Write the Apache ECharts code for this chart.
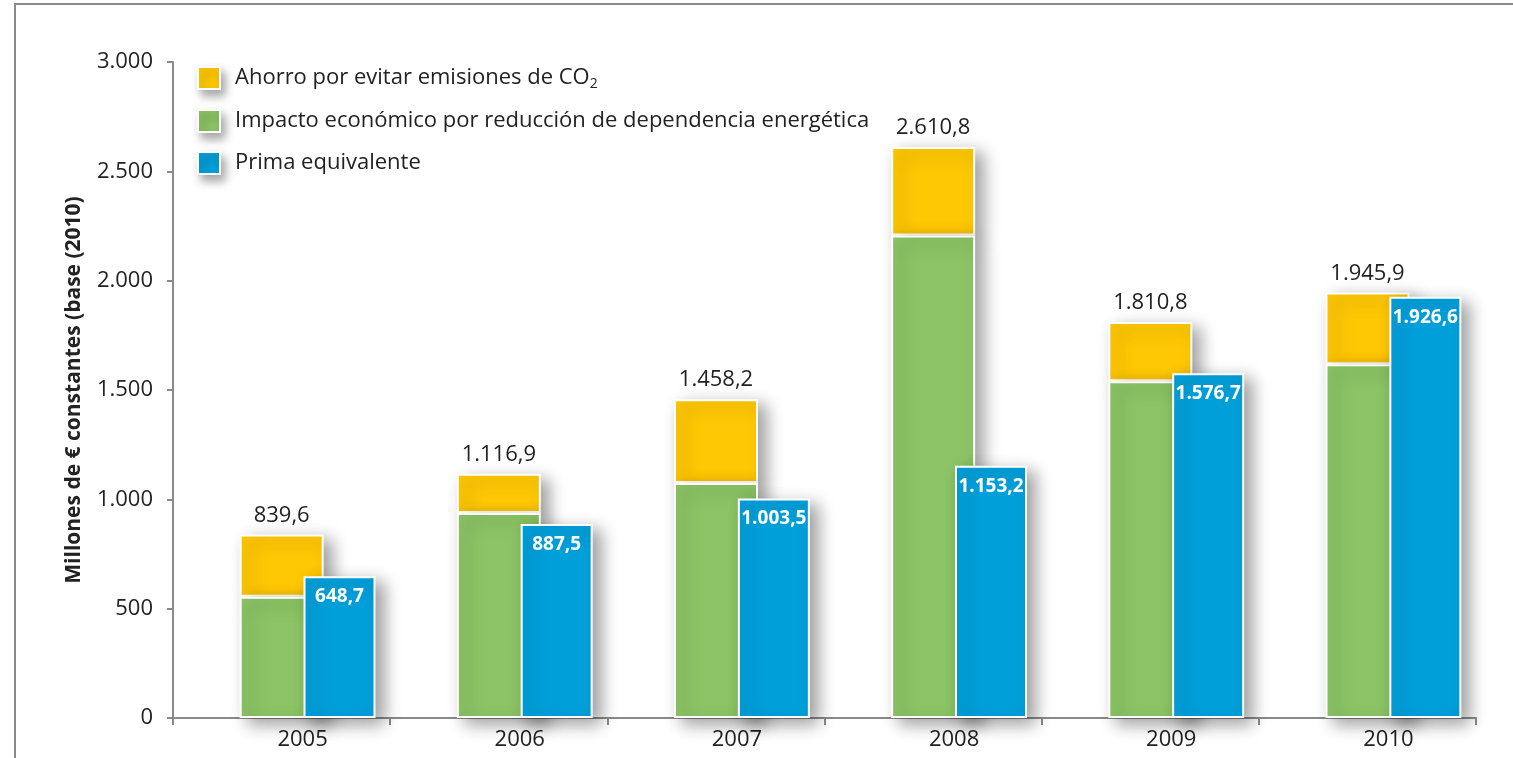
<!DOCTYPE html>
<html>
<head>
<meta charset="utf-8">
<script src="https://cdn.jsdelivr.net/npm/echarts@6/dist/echarts.min.js"></script>
<style>
html,body{margin:0;padding:0;background:#fff;}
#chart{width:1513px;height:758px;}
</style>
</head>
<body>
<div id="chart"></div>
<script>
const years = ['2005', '2006', '2007', '2008', '2009', '2010'];
const impactoEconomico = [555, 937, 1075, 2207, 1540, 1618];
const ahorroCO2 = [284.6, 179.9, 383.2, 403.8, 270.8, 327.9];
const totales = [839.6, 1116.9, 1458.2, 2610.8, 1810.8, 1945.9];
const primaEquivalente = [648.7, 887.5, 1003.5, 1153.2, 1576.7, 1926.6];
const yTicks = [0, 500, 1000, 1500, 2000, 2500, 3000];

const nameAhorro = 'Ahorro por evitar emisiones de CO2';
const nameImpacto = 'Impacto económico por reducción de dependencia energética';
const namePrima = 'Prima equivalente';

const FONT = '"Open Sans", "Noto Sans", sans-serif';
const YELLOW = '#FFC805', GREEN = '#8CC465', BLUE = '#009FDA';

function thousands(s) { return s.replace(/\B(?=(\d{3})+(?!\d))/g, '.'); }
function fmt(v) { const p = v.toFixed(1).split('.'); return thousands(p[0]) + ',' + p[1]; }

const barStyle = c => ({
  color: c, borderColor: '#fff', borderWidth: 2,
  shadowBlur: 16, shadowColor: 'rgba(0,0,0,0.38)', shadowOffsetX: 8, shadowOffsetY: 6
});

const chart = echarts.init(document.getElementById('chart'), null, {renderer: 'canvas'});
chart.setOption({
  animation: false,
  backgroundColor: '#fff',
  textStyle: {fontFamily: FONT},
  graphic: [
    {type: 'line', shape: {x1: 14, y1: 4, x2: 1513, y2: 4}, style: {stroke: '#8a8a8a', lineWidth: 2}},
    {type: 'line', shape: {x1: 15, y1: 4, x2: 15, y2: 758}, style: {stroke: '#8a8a8a', lineWidth: 2}}
  ],
  grid: [
    {left: 173, right: 37, top: 62, bottom: 40},
    {left: 199, right: 11, top: 62, bottom: 40}
  ],
  legend: {
    orient: 'vertical', left: 192, top: 60,
    icon: 'rect', itemWidth: 22, itemHeight: 22, itemGap: 18,
    data: [nameAhorro, nameImpacto, namePrima],
    formatter: n => n.replace('CO2', 'CO{sub|2}'),
    itemStyle: {borderColor: '#fff', borderWidth: 2, shadowBlur: 10, shadowColor: 'rgba(0,0,0,0.35)', shadowOffsetX: 4, shadowOffsetY: 6},
    textStyle: {
      fontFamily: FONT, fontSize: 22, color: '#222', lineHeight: 24, padding: [0, 0, 0, 10],
      rich: {sub: {fontFamily: FONT, fontSize: 14, color: '#222', lineHeight: 24, padding: [12, 0, 0, 0]}}
    }
  },
  xAxis: [
    {
      type: 'category', gridIndex: 0, data: years,
      axisLine: {lineStyle: {color: '#8a8a8a', width: 2}},
      axisTick: {show: true, length: 7, lineStyle: {color: '#8a8a8a', width: 2}},
      axisLabel: {fontFamily: FONT, fontSize: 22, color: '#222', margin: 11, padding: [0, 0, 0, 42]}
    },
    {type: 'category', gridIndex: 1, data: years, show: false}
  ],
  yAxis: [
    {
      type: 'value', gridIndex: 0, min: yTicks[0], max: yTicks[yTicks.length - 1], interval: 500,
      axisLine: {show: true, lineStyle: {color: '#8a8a8a', width: 2}},
      axisTick: {show: true, length: 6, lineStyle: {color: '#8a8a8a', width: 2}},
      splitLine: {show: false},
      axisLabel: {fontFamily: FONT, fontSize: 22, color: '#222', margin: 20, formatter: v => thousands(String(v))},
      name: 'Millones de € constantes (base (2010)',
      nameLocation: 'middle', nameGap: 88, nameRotate: 90,
      nameTextStyle: {fontFamily: FONT, fontSize: 21, fontWeight: 'bold', color: '#222'}
    },
    {type: 'value', gridIndex: 1, min: yTicks[0], max: yTicks[yTicks.length - 1], show: false}
  ],
  series: [
    {
      name: nameImpacto, type: 'bar', xAxisIndex: 1, yAxisIndex: 1, stack: 'a',
      barWidth: 84, barGap: '-24%', z: 3,
      itemStyle: barStyle(GREEN), data: impactoEconomico
    },
    {
      name: nameAhorro, type: 'bar', xAxisIndex: 1, yAxisIndex: 1, stack: 'a',
      barWidth: 84, barGap: '-24%', z: 2,
      itemStyle: barStyle(YELLOW), data: ahorroCO2,
      label: {show: true, position: 'top', distance: 8, fontFamily: FONT, fontSize: 22, color: '#222',
        formatter: p => fmt(totales[p.dataIndex])}
    },
    {
      name: namePrima, type: 'bar', xAxisIndex: 1, yAxisIndex: 1,
      barWidth: 72, barGap: '-24%', z: 4,
      itemStyle: barStyle(BLUE), data: primaEquivalente,
      label: {show: true, position: 'insideTop', distance: 11, fontFamily: FONT, fontSize: 19, fontWeight: 'bold', color: '#fff',
        formatter: p => fmt(p.value)}
    }
  ]
});
</script>
</body>
</html>
